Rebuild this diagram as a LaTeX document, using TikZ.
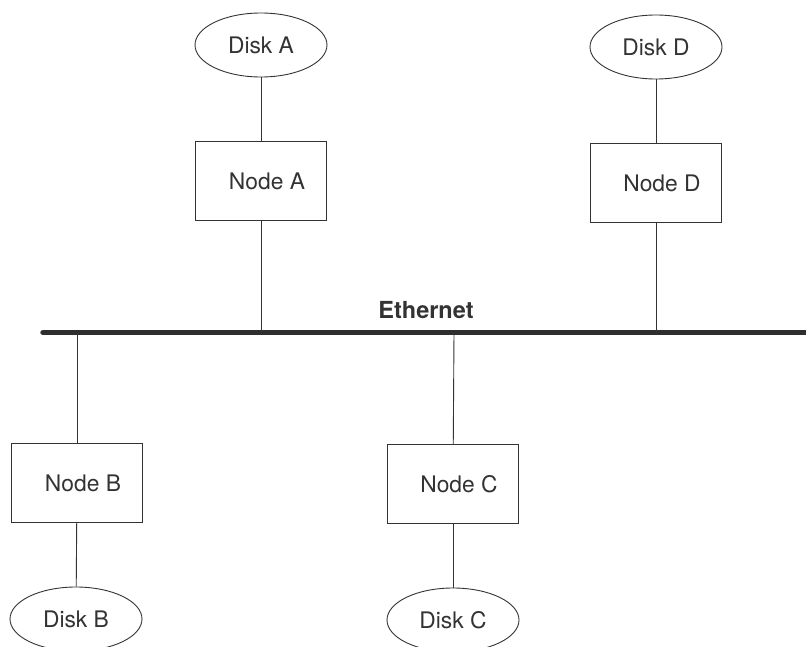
\documentclass[tikz,border=0pt]{standalone}
\usepackage{fontspec}
\setmainfont{TeX Gyre Heros}
\usetikzlibrary{shapes.geometric}
\definecolor{ink}{HTML}{333333}
\tikzset{
  host/.style={draw=ink, line width=0.9pt, rectangle, minimum width=131pt,
    minimum height=79pt, inner sep=0pt, text=ink,
    font=\fontsize{22.8}{27}\selectfont, execute at begin node={\hspace*{12pt}}},
  disk/.style={draw=ink, line width=0.9pt, ellipse, minimum width=132pt,
    minimum height=64pt, inner sep=0pt, text=ink,
    font=\fontsize{22.8}{27}\selectfont},
  link/.style={draw=ink, line width=0.9pt},
  bus/.style={draw=ink!90!black, line width=5.5pt, line cap=round}
}
\begin{document}
\begin{tikzpicture}[x=1pt,y=-1pt]
  \useasboundingbox (0,0) rectangle (806,647);
  % hosts and their disks
  \node[disk] (diskA) at (261,45) {Disk A};
  \node[host] (nodeA) at (261,181) {Node A};
  \node[disk] (diskD) at (656,47) {Disk D};
  \node[host] (nodeD) at (656,183) {Node D};
  \node[host] (nodeB) at (77,483) {Node B};
  \node[disk] (diskB) at (76,619) {Disk B};
  \node[host] (nodeC) at (453,484) {Node C};
  \node[disk] (diskC) at (453,620) {Disk C};
  % taps on the shared bus
  \coordinate (busL) at (43,332.5);
  \coordinate (busR) at (830,332.5);
  \coordinate (tapA) at (261,332.5);
  \coordinate (tapD) at (656,332.5);
  \coordinate (tapB) at (77,332.5);
  \coordinate (tapC) at (454,332.5);
  \draw[bus] (busL) -- (busR);
  \node[font=\fontsize{23.5}{28}\selectfont\bfseries, text=ink] (eth) at (426,310) {Ethernet};
  % links
  \draw[link] (diskA) -- (nodeA);
  \draw[link] (nodeA) -- (tapA);
  \draw[link] (diskD) -- (nodeD);
  \draw[link] (nodeD) -- (tapD);
  \draw[link] (tapB) -- (nodeB);
  \draw[link] (nodeB) -- (diskB);
  \draw[link] (tapC) -- (nodeC);
  \draw[link] (nodeC) -- (diskC);
\end{tikzpicture}
\end{document}
